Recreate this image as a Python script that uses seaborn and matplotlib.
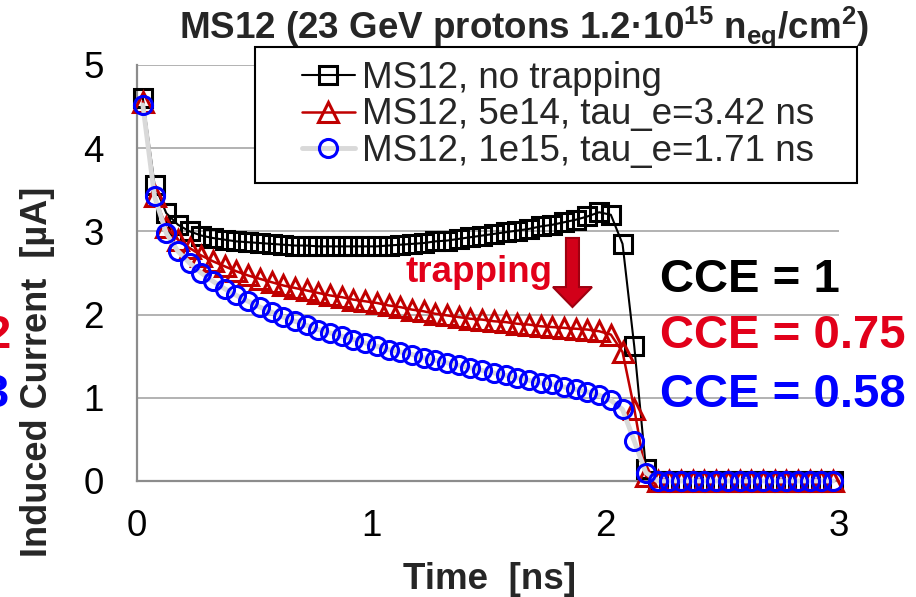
import numpy as np
import pandas as pd
import matplotlib
matplotlib.use("Agg")
import matplotlib.pyplot as plt
from matplotlib.patches import Rectangle, FancyArrow
from matplotlib.ticker import MultipleLocator
import seaborn as sns

# ---- data: induced current pulses for MS12 (time in ns, current in uA) ----
time_ns = [0.025, 0.075, 0.125, 0.175, 0.225, 0.275, 0.325, 0.375, 0.425, 0.475,
           0.525, 0.575, 0.625, 0.675, 0.725, 0.775, 0.825, 0.875, 0.925, 0.975,
           1.025, 1.075, 1.125, 1.175, 1.225, 1.275, 1.325, 1.375, 1.425, 1.475,
           1.525, 1.575, 1.625, 1.675, 1.725, 1.775, 1.825, 1.875, 1.925, 1.975,
           2.025, 2.075, 2.125, 2.175, 2.225, 2.275, 2.325, 2.375, 2.425, 2.475,
           2.525, 2.575, 2.625, 2.675, 2.725, 2.775, 2.825, 2.875, 2.925, 2.975]

no_trapping = [4.60, 3.56, 3.22, 3.08, 3.00, 2.95, 2.92, 2.90, 2.88, 2.87,
               2.86, 2.85, 2.84, 2.83, 2.83, 2.82, 2.82, 2.82, 2.82, 2.82,
               2.82, 2.83, 2.84, 2.85, 2.86, 2.88, 2.89, 2.91, 2.93, 2.95,
               2.97, 2.99, 3.01, 3.03, 3.06, 3.08, 3.11, 3.14, 3.18, 3.23,
               3.20, 2.85, 1.62, 0.15, 0.00, 0.00, 0.00, 0.00, 0.00, 0.00,
               0.00, 0.00, 0.00, 0.00, 0.00, 0.00, 0.00, 0.00, 0.00, 0.00]

trap_5e14 = [4.56, 3.42, 3.05, 2.90, 2.80, 2.71, 2.64, 2.58, 2.52, 2.47,
             2.43, 2.39, 2.35, 2.32, 2.29, 2.26, 2.23, 2.21, 2.18, 2.16,
             2.14, 2.11, 2.09, 2.06, 2.04, 2.01, 1.99, 1.97, 1.95, 1.94,
             1.92, 1.91, 1.89, 1.88, 1.86, 1.85, 1.84, 1.83, 1.82, 1.80,
             1.76, 1.55, 0.87, 0.06, 0.00, 0.00, 0.00, 0.00, 0.00, 0.00,
             0.00, 0.00, 0.00, 0.00, 0.00, 0.00, 0.00, 0.00, 0.00, 0.00]

trap_1e15 = [4.52, 3.42, 2.98, 2.76, 2.62, 2.50, 2.40, 2.31, 2.23, 2.16,
             2.09, 2.03, 1.97, 1.92, 1.87, 1.82, 1.78, 1.74, 1.70, 1.66,
             1.62, 1.58, 1.55, 1.52, 1.48, 1.45, 1.42, 1.39, 1.36, 1.33,
             1.30, 1.27, 1.24, 1.21, 1.18, 1.16, 1.13, 1.10, 1.07, 1.03,
             0.97, 0.86, 0.48, 0.10, 0.00, 0.00, 0.00, 0.00, 0.00, 0.00,
             0.00, 0.00, 0.00, 0.00, 0.00, 0.00, 0.00, 0.00, 0.00, 0.00]

series_labels = ["MS12, no trapping",
                 "MS12, 5e14, tau_e=3.42 ns",
                 "MS12, 1e15, tau_e=1.71 ns"]
cce_labels = ["CCE = 1", "CCE = 0.75", "CCE = 0.58"]

x_ticks = [0, 1, 2, 3]
y_ticks = [0, 1, 2, 3, 4, 5]

df = pd.DataFrame({"t": time_ns, "none": no_trapping,
                   "5e14": trap_5e14, "1e15": trap_1e15})

# ---- style ----
sns.set_style("white")
plt.rcParams["font.family"] = ["Liberation Sans", "DejaVu Sans"]
plt.rcParams["mathtext.fontset"] = "custom"
plt.rcParams["mathtext.rm"] = "Liberation Sans:bold"
plt.rcParams["mathtext.it"] = "Liberation Sans:bold"
plt.rcParams["mathtext.bf"] = "Liberation Sans:bold"

W, H = 916, 597
fig = plt.figure(figsize=(W / 100, H / 100), dpi=100)
fig.patch.set_facecolor("white")
ax = fig.add_axes([137 / W, 1 - 481 / H, (839 - 137) / W, (481 - 65) / H])

RED_LINE = "#c00000"
RED_TEXT = "#e2001a"
BLUE = "#0000ff"
AXIS_GRAY = "#8c8c8c"

common = dict(markerfacecolor="none", markeredgewidth=2.2,
              clip_on=False, ax=ax)
sns.lineplot(data=df, x="t", y="none", color="black", linewidth=1.5,
             marker="s", markersize=13, markeredgecolor="black",
             label=series_labels[0], zorder=3, **common)
sns.lineplot(data=df, x="t", y="5e14", color=RED_LINE, linewidth=1.8,
             marker="^", markersize=14, markeredgecolor=RED_LINE,
             label=series_labels[1], zorder=4, **common)
sns.lineplot(data=df, x="t", y="1e15", color="#d9d9d9", linewidth=3.5,
             marker="o", markersize=13, markeredgecolor=BLUE,
             label=series_labels[2], zorder=5, **common)

handles, labels = ax.get_legend_handles_labels()
if ax.get_legend() is not None:
    ax.get_legend().remove()

# ---- axes ----
ax.set_xlim(0, 3)
ax.set_ylim(0, 5)
ax.set_xticks(x_ticks)
ax.set_yticks(y_ticks)
ax.xaxis.set_minor_locator(MultipleLocator(0.2))
ax.yaxis.set_minor_locator(MultipleLocator(0.2))
ax.set_xlabel("")
ax.set_ylabel("")
ax.set_facecolor("none")
for side in ("top", "right"):
    ax.spines[side].set_visible(False)
for side in ("left", "bottom"):
    ax.spines[side].set_color(AXIS_GRAY)
    ax.spines[side].set_linewidth(1.6)
ax.grid(axis="y", which="major", color="#a6a6a6", linewidth=1.2)
ax.grid(axis="x", which="both", visible=False)
ax.set_axisbelow(True)

ax.tick_params(axis="x", which="major", direction="inout", length=16, width=1.4,
               color=AXIS_GRAY, labelsize=26.5, pad=12, labelcolor="black")
ax.tick_params(axis="x", which="minor", direction="in", length=7, width=1.2,
               color=AXIS_GRAY)
ax.tick_params(axis="y", which="major", direction="out", length=8, width=1.4,
               color=AXIS_GRAY, labelsize=26.5, pad=16, labelcolor="black")
ax.tick_params(axis="y", which="minor", direction="inout", length=12, width=1.2,
               color=AXIS_GRAY)

# ---- legend with its own boxed frame ----
fig.add_artist(Rectangle((255 / W, 1 - 183 / H), 602 / W, 136 / H,
                         transform=fig.transFigure, facecolor="white",
                         edgecolor="black", linewidth=1.5, zorder=4))
leg = fig.legend(handles, labels, loc="center",
                 bbox_to_anchor=(558 / W, 1 - 115 / H), frameon=False,
                 fontsize=26.5, handlelength=1.43, handletextpad=0.2,
                 labelspacing=0.05, borderpad=0)
leg.set_zorder(5)

# ---- annotations ----
fig.text(524 / W, 1 - 38 / H,
         r"MS12 (23 GeV protons 1.2·10$^{15}$ n$_{eq}$/cm$^{2}$)",
         ha="center", va="baseline", fontsize=26.5, fontweight="bold")
fig.text(490 / W, 1 - 589 / H, "Time  [ns]", ha="center", va="baseline",
         fontsize=26.5, fontweight="bold")
fig.text(38 / W, 1 - 372 / H, "Induced Current  [µA]", rotation=90,
         ha="center", va="center", fontsize=26, fontweight="bold")

cce_colors = ["black", RED_TEXT, BLUE]
cce_baselines = [292, 348, 407]
for txt, col, yb in zip(cce_labels, cce_colors, cce_baselines):
    fig.text(660 / W, 1 - yb / H, txt, ha="left", va="baseline",
             fontsize=34, fontweight="bold", color=col)

# tails of neighbouring labels running in from the left edge
fig.text(11 / W, 1 - 348 / H, "2", ha="right", va="baseline",
         fontsize=34, fontweight="bold", color=RED_TEXT)
fig.text(9 / W, 1 - 407 / H, "3", ha="right", va="baseline",
         fontsize=34, fontweight="bold", color=BLUE)

ax.text(405 / W, 1 - 282 / H, "trapping", transform=fig.transFigure,
        ha="left", va="baseline", fontsize=26.5, fontweight="bold",
        color=RED_TEXT, zorder=6)

arrow = FancyArrow(1.861, 2.921, 0.0, -0.830, width=0.0556,
                   length_includes_head=True, head_width=0.1667,
                   head_length=0.24, facecolor="#d20019", edgecolor="#9e0010",
                   linewidth=1.5, zorder=6)
ax.add_patch(arrow)

fig.savefig("out.png", dpi=100)
